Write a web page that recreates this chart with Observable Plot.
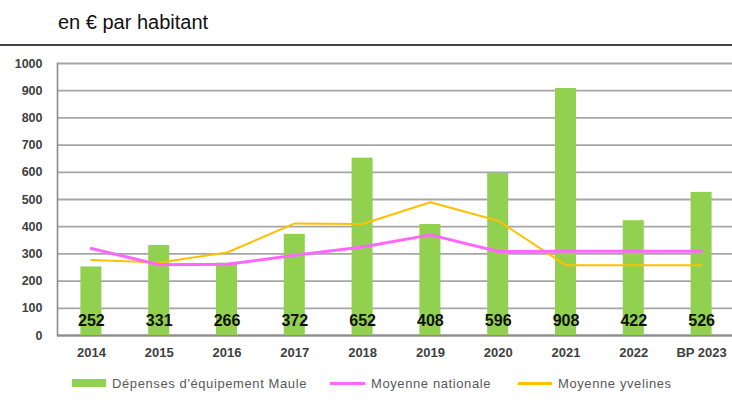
<!DOCTYPE html>
<html>
<head>
<meta charset="utf-8">
<script src="https://cdn.jsdelivr.net/npm/d3@7"></script>
<script src="https://cdn.jsdelivr.net/npm/@observablehq/plot@0.6"></script>
<style>
  body { margin:0; background:#fff; font-family: Arial, "Liberation Sans", sans-serif; }
  #wrap { position:relative; width:732px; height:412px; overflow:hidden; }
  #title { position:absolute; left:58px; top:11px; font-size:20px; color:#111; }
  #rule { position:absolute; left:0; top:44px; width:732px; height:0; border-top:2px solid #444; }
  #chart { position:absolute; left:0; top:46px; }
  #legend { position:absolute; top:375px; left:0; width:732px; height:18px; font-size:13px; color:#595959; letter-spacing:0.6px; }
  .item { position:absolute; top:0; display:flex; align-items:center; height:16px; }
  .sw { display:inline-block; margin-right:6px; }
</style>
</head>
<body>
<div id="wrap">
  <div id="title">en € par habitant</div>
  <div id="rule"></div>
  <div id="chart"></div>
  <div id="legend">
    <div class="item" style="left:72px"><span class="sw" style="width:34px;height:8px;background:#92d050"></span>Dépenses d'équipement Maule</div>
    <div class="item" style="left:330px"><span class="sw" style="width:35px;height:3px;background:#ff66ff"></span>Moyenne nationale</div>
    <div class="item" style="left:518px"><span class="sw" style="width:34px;height:3px;background:#ffc000"></span>Moyenne yvelines</div>
  </div>
</div>
<script>
const years = ["2014","2015","2016","2017","2018","2019","2020","2021","2022","BP 2023"];
const depenses = [252,331,266,372,652,408,596,908,422,526];
const nationale = [320,260,262,295,325,370,309,310,310,310];
const yvelines = [278,268,305,412,410,490,422,258,258,258];
const yTicks = [0,100,200,300,400,500,600,700,800,900,1000];

const data = years.map((y,i)=>({year:y, dep:depenses[i], nat:nationale[i], yve:yvelines[i]}));

const chart = Plot.plot({
  width:732, height:320,
  marginLeft:57, marginRight:-3, marginTop:17, marginBottom:31,
  style:{fontFamily:"Arial, 'Liberation Sans', sans-serif", background:"transparent"},
  x:{domain:years, paddingInner:0.69, paddingOuter:0.345, round:false, label:null},
  y:{domain:[0,1000], label:null},
  marks:[
    Plot.ruleY(yTicks, {stroke:"#a6a6a6", strokeWidth:1.8}),
    Plot.ruleY([0], {stroke:"#8c8c8c", strokeWidth:2}),
    Plot.frame({anchor:"left", stroke:"#8c8c8c", strokeWidth:1.6}),
    Plot.barY(data, {x:"year", y:"dep", fill:"#92d050"}),
    Plot.line(data, {x:"year", y:"yve", stroke:"#ffc000", strokeWidth:2}),
    Plot.line(data, {x:"year", y:"nat", stroke:"#ff66ff", strokeWidth:3}),
    Plot.text(data, {x:"year", y:()=>55, text:d=>String(d.dep), fontSize:16, fontWeight:"bold", fill:"#111"}),
    Plot.axisX({tickSize:0, tickPadding:12, fontSize:13, fontWeight:"bold", fill:"#404040"}),
    Plot.axisY({ticks:yTicks, tickSize:0, tickPadding:15, fontSize:12.5, fontWeight:"bold", fill:"#404040", tickFormat:d=>String(d)})
  ]
});
document.getElementById("chart").appendChild(chart);
</script>
</body>
</html>
